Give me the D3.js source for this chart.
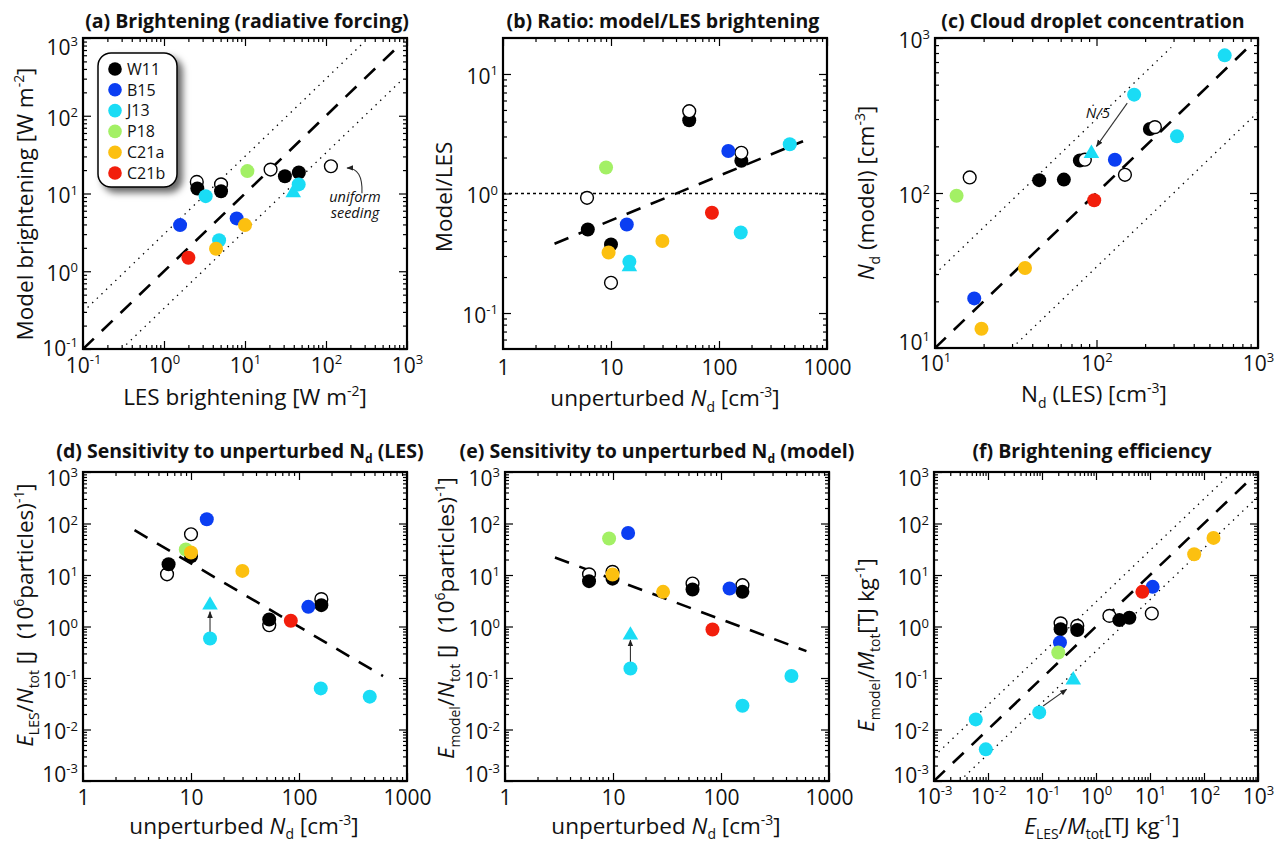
<!DOCTYPE html>
<html><head><meta charset="utf-8">
<script src="https://cdn.jsdelivr.net/npm/d3@7/dist/d3.min.js"></script>
<style>
html,body{margin:0;padding:0;background:#fff;overflow:hidden;}
svg{display:block;}
text{font-family:"Open Sans",Lato,"DejaVu Sans",sans-serif;fill:#111;white-space:pre;}
</style></head><body>
<svg id="chart" width="1276" height="844"></svg>
<script>
// ================= DATA =================
// legend series
const seriesCodes = ["W11","B15","J13","P18","C21a","C21b"];
// group code of each point (same layout in every panel):
// O = W11 alternative (open), W = W11, T = J13 with N/5 (triangle), J = J13, B = B15, P = P18, A = C21a, R = C21b
const groupCodes = ["O","O","O","O","W","W","W","W","T","J","J","J","B","B","P","A","A","R"];

// (a) Brightening: LES vs model [W m-2]
const aX = [2.54,5.06,20.7,115, 2.58,5.06,31.1,46.2, 39.4, 3.27,46,4.79, 1.58,7.89, 10.7, 10,4.39, 2.0];
const aY = [14.1,13.1,20.3,22.4, 11.6,10.7,16.7,18.6, 10.2, 9.25,13.1,2.51, 3.92,4.78, 19.4, 3.92,1.95, 1.49];
// (b) Ratio model/LES vs unperturbed Nd
const bX = [6.0,10,53,161, 6.1,10,53,161, 14.8, 14.8,159,452, 14,122, 9, 9.5,29.9, 86];
const bY = [0.92,0.179,4.88,2.19, 0.50,0.375,4.10,1.88, 0.244, 0.269,0.472,2.58, 0.55,2.27, 1.65, 0.321,0.40, 0.69];
// (c) Nd LES vs Nd model
const cX = [230,84.7,16.4,150, 214,78.9,44.2,62.8, 93, 622,171,315, 130,17.5, 13.6, 36.1,19.4, 96.8];
const cY = [266,164,126,131, 259,162,121,122, 180, 773,431,232, 164,20.9, 96, 32.8,13.3, 89.8];
// (d) E_LES / N_tot vs unperturbed Nd
const dX = [6.0,10,53,161, 6.2,10,53,161, 15, 15,159,452, 14,122, 8.95, 10,29.9, 84];
const dY = [10.3,61.8,1.06,3.40, 16.2,23.2,1.37,2.6, 2.6, 0.586,0.0628,0.0434, 121,2.41, 31.2, 27.3,12.0, 1.29];
// (e) E_model / N_tot vs unperturbed Nd
const eX = [6.0,9.9,54.5,158, 6.0,9.9,54.5,158, 14.5, 14.5,158,449, 13.8,120, 9.2, 9.9,29.1, 83.4];
const eY = [10.3,11.5,6.84,6.34, 7.6,8.5,5.22,4.71, 0.68, 0.153,0.029,0.109, 65.6,5.47, 51, 10.2,4.71, 0.875];
// (f) E_LES/M_tot vs E_model/M_tot [TJ kg-1]
const fX = [0.221,0.45,1.77,10.8, 0.221,0.45,2.71,4.15, 0.379, 0.0888,0.00593,0.0091, 11.2,0.215, 0.20, 150,65.8, 7.22];
const fY = [1.15,1.03,1.61,1.79, 0.889,0.851,1.33,1.48, 0.091, 0.0215,0.0157,0.00412, 5.89,0.49, 0.313, 52.5,25.3, 4.71];

// reference / fit lines (end points in data units)
const aDashed = [[0.1,0.1],[700,700]];
const aDotUp  = [[0.1,0.3],[290,870]];
const aDotLo  = [[0.3,0.1],[900,300]];
const bDashed = [[3,0.38],[600,2.74]];
const bUnity  = [[1,1],[1000,1]];
const cDashed = [[10,10],[850,850]];
const cDotUp  = [[10,30],[290,870]];
const cDotLo  = [[30,10],[1000,333]];
const dDashed = [[3,74],[600,0.109]];
const eDashed = [[2.9,21.8],[618,0.333]];
const fDashed = [[0.001,0.001],[700,700]];
const fDotUp  = [[0.001,0.003],[290,870]];
const fDotLo  = [[0.003,0.001],[1000,333]];

// arrows (from, [control], to) in data units
const aArrow = [[278,10.1],[286,21.3],[182,21.3]];
const cArrow = [[155,380],[100,200]];
const dArrow = [[15,0.73],[15,1.93]];
const eArrow = [[14.5,0.19],[14.5,0.545]];
const fArrow = [[0.105,0.0286],[0.285,0.060]];

// tick values
const powTicks3   = [0.1,1,10,100,1000];
const ndTicks     = [1,10,100,1000];
const ratioTicks  = [0.1,1,10];
const cTicks      = [10,100,1000];
const effTicks    = [0.001,0.01,0.1,1,10,100,1000];

// ================= STYLE / LAYOUT =================
const COLORS = {W:"#000000", O:"#ffffff", B:"#0b3ef2", J:"#1adcf5", T:"#1adcf5", P:"#a3f065", A:"#fcc010", R:"#f21e0c"};
const LEGEND_COLORS = {W11:"#000000", B15:"#0b3ef2", J13:"#1adcf5", P18:"#a3f065", C21a:"#fcc010", C21b:"#f21e0c"};
const LINESTYLE = {dash:{w:2.6,dash:"15,11"}, dot:{w:1.3,dash:"1.4,5"}, hdot:{w:1.3,dash:"3,3"}};
const FS_TICK = 21, FS_AXIS = 22.5, FS_TITLE = 19.5;

const svg = d3.select("#chart");
const defs = svg.append("defs");
const filt = defs.append("filter").attr("id","shadow").attr("x","-30%").attr("y","-30%").attr("width","170%").attr("height","170%");
filt.append("feDropShadow").attr("dx",5).attr("dy",5).attr("stdDeviation",3.5).attr("flood-color","#000").attr("flood-opacity",0.6);
defs.append("marker").attr("id","arrow").attr("viewBox","0 0 10 10").attr("refX",9).attr("refY",5)
  .attr("markerWidth",7).attr("markerHeight",7).attr("markerUnits","userSpaceOnUse").attr("orient","auto")
  .append("path").attr("d","M0,1 L10,5 L0,9 Z").attr("fill","#222");

function richText(sel, str, fs) {
  const parts = str.split(/(\^\{[^}]*\}|_\{[^}]*\}|\*[^*]*\*)/).filter(s => s.length);
  let shift = 0;
  parts.forEach(p => {
    let txt = p, target = 0, size = fs, italic = false;
    if (p.startsWith("^{")) { txt = p.slice(2,-1); target = -0.4*fs; size = 0.62*fs; }
    else if (p.startsWith("_{")) { txt = p.slice(2,-1); target = 0.25*fs; size = 0.62*fs; }
    else if (p.length > 1 && p.startsWith("*") && p.endsWith("*")) { txt = p.slice(1,-1); italic = true; }
    const t = sel.append("tspan").attr("font-size", size).attr("dy", target - shift).text(txt);
    if (italic) t.attr("font-style","italic");
    shift = target;
  });
}

function minorTicks(dom) {
  const out = [];
  const k0 = Math.floor(Math.log10(dom[0])), k1 = Math.ceil(Math.log10(dom[1]));
  for (let k = k0; k <= k1; k++) for (let m = 2; m <= 9; m++) {
    const v = m * Math.pow(10, k);
    if (v > dom[0]*1.0001 && v < dom[1]*0.9999) out.push(v);
  }
  return out;
}

const panels = [
 {id:"a", X:aX, Y:aY, xDomain:[0.1,1000], yDomain:[0.1,1000], xTicks:powTicks3, yTicks:powTicks3, xFmt:"pow", yFmt:"pow",
  L:{left:83,right:407,top:38,bottom:349}, titlePos:[247,28], xtPos:[245,405], ytPos:[33,204], xPad:9, edgeShift:[7,-3],
  title:"(a) Brightening (radiative forcing)", xTitle:"LES brightening [W m^{-2}]", yTitle:"Model brightening [W m^{-2}]",
  lines:[{k:"dash",d:aDashed},{k:"dot",d:aDotUp},{k:"dot",d:aDotLo}], openOnTop:false,
  arrows:[{p:aArrow, curve:true}],
  notes:[{lines:["uniform","seeding"], at:[228,7.7], lh:16, fs:14.5, it:true}], legend:true},
 {id:"b", X:bX, Y:bY, xDomain:[1,1000], yDomain:[0.05,20], xTicks:ndTicks, yTicks:ratioTicks, xFmt:"plain", yFmt:"pow",
  L:{left:503,right:827,top:38,bottom:349}, titlePos:[663,28], xtPos:[665,406], ytPos:[452,197], xPad:11, edgeShift:[0,0],
  title:"(b) Ratio: model/LES brightening", xTitle:"unperturbed *N*_{d} [cm^{-3}]", yTitle:"Model/LES",
  lines:[{k:"dash",d:bDashed},{k:"hdot",d:bUnity}], openOnTop:true, arrows:[], notes:[]},
 {id:"c", X:cX, Y:cY, xDomain:[10,1000], yDomain:[10,1000], xTicks:cTicks, yTicks:cTicks, xFmt:"pow", yFmt:"pow",
  L:{left:935,right:1258,top:38,bottom:348}, titlePos:[1093,28], xtPos:[1094,402], ytPos:[874,193], xPad:8, edgeShift:[0,-8],
  title:"(c) Cloud droplet concentration", xTitle:"N_{d} (LES) [cm^{-3}]", yTitle:"*N*_{d} (model) [cm^{-3}]",
  lines:[{k:"dash",d:cDashed},{k:"dot",d:cDotUp},{k:"dot",d:cDotLo}], openOnTop:true,
  arrows:[{p:cArrow}], notes:[{lines:["Ṅ/5"], at:[102,305], lh:15, fs:15, it:true}]},
 {id:"d", X:dX, Y:dY, xDomain:[1,1000], yDomain:[0.001,1000], xTicks:ndTicks, yTicks:effTicks, xFmt:"plain", yFmt:"pow",
  L:{left:83,right:407,top:472,bottom:781}, titlePos:[240,458], xtPos:[244,833.5], ytPos:[33,615], xPad:9, edgeShift:[4,-9],
  title:"(d) Sensitivity to unperturbed N_{d} (LES)", xTitle:"unperturbed *N*_{d} [cm^{-3}]", yTitle:"*E*_{LES}/*N*_{tot} [J  (10^{6}particles)^{-1}]",
  lines:[{k:"dash",d:dDashed}], openOnTop:false, arrows:[{p:dArrow}], notes:[]},
 {id:"e", X:eX, Y:eY, xDomain:[1,1000], yDomain:[0.001,1000], xTicks:ndTicks, yTicks:effTicks, xFmt:"plain", yFmt:"pow",
  L:{left:505,right:829,top:472,bottom:781}, titlePos:[657,458], xtPos:[666,833.5], ytPos:[454,618], xPad:9, edgeShift:[4,-9],
  title:"(e) Sensitivity to unperturbed N_{d} (model)", xTitle:"unperturbed *N*_{d} [cm^{-3}]", yTitle:"*E*_{model}/*N*_{tot} [J  (10^{6}particles)^{-1}]",
  lines:[{k:"dash",d:eDashed}], openOnTop:false, arrows:[{p:eArrow}], notes:[]},
 {id:"f", X:fX, Y:fY, xDomain:[0.001,1000], yDomain:[0.001,1000], xTicks:effTicks, yTicks:effTicks, xFmt:"pow", yFmt:"pow",
  L:{left:934,right:1258,top:472,bottom:781}, titlePos:[1092,458], xtPos:[1102,833.5], ytPos:[874,645], xPad:8, edgeShift:[4,-8],
  title:"(f) Brightening efficiency", xTitle:"*E*_{LES}/*M*_{tot}[TJ kg^{-1}]", yTitle:"*E*_{model}/*M*_{tot}[TJ kg^{-1}]",
  lines:[{k:"dash",d:fDashed},{k:"dot",d:fDotUp},{k:"dot",d:fDotLo}], openOnTop:false, arrows:[{p:fArrow}], notes:[]}
];

function powLabel(textSel, v, fs) {
  const e = Math.round(Math.log10(v));
  textSel.text(null);
  textSel.append("tspan").text("10");
  textSel.append("tspan").attr("dy", -0.42*fs).attr("font-size", 0.62*fs).text(String(e));
}

function drawPanel(cfg) {
  const L = cfg.L;
  const x = d3.scaleLog().domain(cfg.xDomain).range([L.left, L.right]);
  const y = d3.scaleLog().domain(cfg.yDomain).range([L.bottom, L.top]);
  const g = svg.append("g").attr("id","panel-"+cfg.id);
  const clipId = "clip-"+cfg.id;
  defs.append("clipPath").attr("id",clipId).append("rect")
    .attr("x",L.left).attr("y",L.top).attr("width",L.right-L.left).attr("height",L.bottom-L.top);

  // reference lines
  const lg = g.append("g").attr("clip-path",`url(#${clipId})`);
  const line = d3.line().x(d => x(d[0])).y(d => y(d[1]));
  cfg.lines.forEach(l => {
    const s = LINESTYLE[l.k];
    lg.append("path").attr("d", line(l.d)).attr("fill","none").attr("stroke","#000")
      .attr("stroke-width", s.w).attr("stroke-dasharray", s.dash);
  });

  // axes (ticks inward on all four sides)
  const ax = g.append("g");
  function addAxis(gen, tr, vals, size, fmt, pad) {
    const a = ax.append("g").attr("transform", tr)
      .call(gen.tickValues(vals).tickSize(size).tickPadding(pad || 0).tickFormat(fmt || (() => "")));
    a.select(".domain").remove();
    a.selectAll(".tick line").attr("stroke","#000").attr("stroke-width",1.2);
    a.selectAll(".tick text").attr("font-size", FS_TICK).attr("fill","#111")
      .attr("font-family",'"Open Sans",Lato,sans-serif');
    if (!fmt) a.selectAll(".tick text").remove();
    return a;
  }
  const mx = minorTicks(cfg.xDomain), my = minorTicks(cfg.yDomain);
  addAxis(d3.axisBottom(x), `translate(0,${L.bottom})`, mx, -4);
  addAxis(d3.axisTop(x), `translate(0,${L.top})`, mx, -4);
  addAxis(d3.axisLeft(y), `translate(${L.left},0)`, my, -4);
  addAxis(d3.axisRight(y), `translate(${L.right},0)`, my, -4);
  addAxis(d3.axisTop(x), `translate(0,${L.top})`, cfg.xTicks, -8);
  addAxis(d3.axisRight(y), `translate(${L.right},0)`, cfg.yTicks, -8);
  const xb = addAxis(d3.axisBottom(x), `translate(0,${L.bottom})`, cfg.xTicks, -8, d => String(d), cfg.xPad);
  const yl = addAxis(d3.axisLeft(y), `translate(${L.left},0)`, cfg.yTicks, -8, d => String(d), 5);
  if (cfg.xFmt === "pow") xb.selectAll(".tick text").each(function(d){ powLabel(d3.select(this), d, FS_TICK); });
  yl.selectAll(".tick text").each(function(d){
    const t = d3.select(this);
    if (cfg.yFmt === "pow") powLabel(t, d, FS_TICK);
    const isTop = Math.abs(Math.log10(d) - Math.log10(cfg.yDomain[1])) < 1e-6;
    const isBot = Math.abs(Math.log10(d) - Math.log10(cfg.yDomain[0])) < 1e-6;
    const extra = isTop ? cfg.edgeShift[0] : (isBot ? cfg.edgeShift[1] : 0);
    t.attr("dy", null).attr("y", 0.45*FS_TICK + extra);
  });

  // frame
  g.append("rect").attr("x",L.left).attr("y",L.top).attr("width",L.right-L.left).attr("height",L.bottom-L.top)
    .attr("fill","none").attr("stroke","#000").attr("stroke-width",2.2);

  // arrows
  cfg.arrows.forEach(a => {
    const p = d3.path();
    const P = a.p.map(d => [x(d[0]), y(d[1])]);
    p.moveTo(P[0][0], P[0][1]);
    if (a.curve) p.quadraticCurveTo(P[1][0], P[1][1], P[2][0], P[2][1]);
    else p.lineTo(P[1][0], P[1][1]);
    g.append("path").attr("d", p.toString()).attr("fill","none").attr("stroke","#333")
      .attr("stroke-width",1.1).attr("marker-end","url(#arrow)");
  });

  // points
  const order = cfg.openOnTop ? ["W","O","T","J","B","P","A","R"] : ["O","W","T","J","B","P","A","R"];
  const pts = cfg.X.map((v,i) => ({x:v, y:cfg.Y[i], g:groupCodes[i]}));
  pts.sort((p,q) => order.indexOf(p.g) - order.indexOf(q.g));
  const pg = g.append("g");
  pts.forEach(p => {
    if (p.g === "T") {
      pg.append("path").attr("d", d3.symbol(d3.symbolTriangle, 105)())
        .attr("transform", `translate(${x(p.x)},${y(p.y)})`).attr("fill", COLORS.T);
    } else if (p.g === "O") {
      pg.append("circle").attr("cx", x(p.x)).attr("cy", y(p.y)).attr("r", 6.4)
        .attr("fill","#fff").attr("stroke","#000").attr("stroke-width",1.4);
    } else {
      pg.append("circle").attr("cx", x(p.x)).attr("cy", y(p.y)).attr("r", 7).attr("fill", COLORS[p.g]);
    }
  });

  // notes (multi-line text as one element)
  cfg.notes.forEach(n => {
    const t = g.append("text").attr("x", x(n.at[0])).attr("y", y(n.at[1])).attr("text-anchor","middle")
      .attr("font-size", n.fs).attr("font-style", n.it ? "italic" : null).attr("fill","#222");
    n.lines.forEach((s,i) => t.append("tspan").attr("x", x(n.at[0])).attr("dy", i ? n.lh : 0).text(s));
  });

  // titles
  const tt = g.append("text").attr("x", cfg.titlePos[0]).attr("y", cfg.titlePos[1]).attr("text-anchor","middle")
    .attr("font-weight","bold").attr("font-size", FS_TITLE);
  richText(tt, cfg.title, FS_TITLE);
  const xt = g.append("text").attr("x", cfg.xtPos[0]).attr("y", cfg.xtPos[1]).attr("text-anchor","middle").attr("font-size", FS_AXIS);
  richText(xt, cfg.xTitle, FS_AXIS);
  const yt = g.append("text").attr("transform", `translate(${cfg.ytPos[0]},${cfg.ytPos[1]}) rotate(-90)`)
    .attr("text-anchor","middle").attr("font-size", FS_AXIS);
  richText(yt, cfg.yTitle, FS_AXIS);

  // legend
  if (cfg.legend) {
    const lx = L.left + 15, ly = L.top + 15;
    const lgd = g.append("g");
    lgd.append("rect").attr("x", lx).attr("y", ly).attr("width", 79).attr("height", 134).attr("rx", 13)
      .attr("fill","#fff").attr("stroke","#000").attr("stroke-width",1.5).attr("filter","url(#shadow)");
    seriesCodes.forEach((s,i) => {
      const cy = ly + 16 + i*20.8;
      lgd.append("circle").attr("cx", lx + 17).attr("cy", cy).attr("r", 6.8).attr("fill", LEGEND_COLORS[s]);
      lgd.append("text").attr("x", lx + 29).attr("y", cy).attr("dy","0.36em").attr("font-size",16).text(s);
    });
  }
}

panels.forEach(drawPanel);
</script>
</body></html>
